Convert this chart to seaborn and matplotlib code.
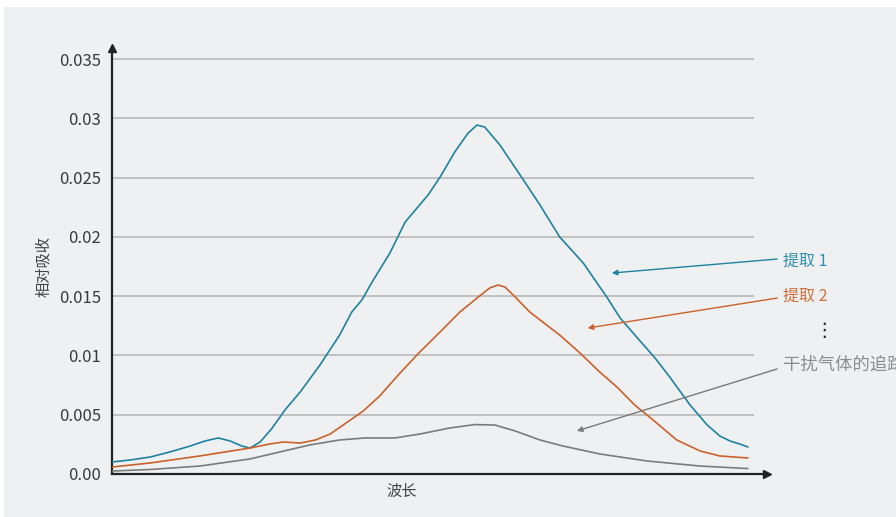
import numpy as np
import pandas as pd
import seaborn as sns
import matplotlib.pyplot as plt
from matplotlib.patches import Rectangle

# ── data (wavelength index 0..100, relative absorption) ──
x_blue = [0, 2.8, 6.0, 9.1, 12.3, 14.6, 16.7, 18.6, 20.4, 21.7, 23.3, 25.2, 27.2,
          29.6, 32.7, 35.8, 37.7, 39.3, 40.9, 43.7, 46.1, 49.7, 51.6, 53.9, 56.0,
          57.4, 58.6, 61.0, 64.5, 67.3, 70.4, 74.1, 77.8, 79.9, 82.5, 85.4, 87.7,
          90.9, 93.6, 95.6, 97.2, 98.7, 100]
y_blue = [0.00101, 0.00118, 0.00143, 0.00186, 0.00236, 0.00278, 0.00304, 0.00278,
          0.00236, 0.00219, 0.00270, 0.00388, 0.00540, 0.00692, 0.00919, 0.01172,
          0.01366, 0.01468, 0.01619, 0.01864, 0.02125, 0.02353, 0.02505, 0.02716,
          0.02876, 0.02943, 0.02927, 0.02775, 0.02496, 0.02269, 0.01999, 0.01780,
          0.01493, 0.01316, 0.01155, 0.00978, 0.00818, 0.00582, 0.00413, 0.00320,
          0.00278, 0.00253, 0.00228]

x_orange = [0, 6.0, 13.8, 21.7, 24.8, 26.9, 29.6, 32.0, 34.3, 36.6, 39.5, 42.1,
            45.3, 48.4, 51.6, 54.7, 57.4, 59.4, 60.7, 61.8, 63.4, 65.7, 70.4, 73.6,
            76.7, 79.4, 82.2, 85.1, 88.8, 92.5, 95.6, 100]
y_orange = [0.00059, 0.00093, 0.00152, 0.00219, 0.00253, 0.00270, 0.00261, 0.00287,
            0.00337, 0.00422, 0.00531, 0.00658, 0.00852, 0.01029, 0.01198, 0.01366,
            0.01484, 0.01569, 0.01594, 0.01577, 0.01493, 0.01366, 0.01172, 0.01020,
            0.00860, 0.00734, 0.00582, 0.00455, 0.00287, 0.00194, 0.00152, 0.00135]

x_gray = [0, 6.0, 13.8, 21.7, 26.4, 31.1, 35.8, 39.8, 44.5, 48.4, 53.1, 57.1, 60.2,
          63.4, 67.3, 70.9, 76.7, 84.1, 92.5, 100]
y_gray = [0.00025, 0.00038, 0.00067, 0.00127, 0.00186, 0.00245, 0.00287, 0.00304,
          0.00304, 0.00337, 0.00388, 0.00417, 0.00413, 0.00363, 0.00287, 0.00236,
          0.00169, 0.00110, 0.00067, 0.00046]

y_ticks = [0, 0.005, 0.01, 0.015, 0.02, 0.025, 0.03, 0.035]
y_tick_labels = ["0.00", "0.005", "0.01", "0.015", "0.02", "0.025", "0.03", "0.035"]

labels = ["提取 1", "提取 2", "干扰气体的追踪"]

df = pd.concat([
    pd.DataFrame({"x": x_blue, "y": y_blue, "series": labels[0]}),
    pd.DataFrame({"x": x_orange, "y": y_orange, "series": labels[1]}),
    pd.DataFrame({"x": x_gray, "y": y_gray, "series": labels[2]}),
])

line_colors = {labels[0]: "#1f82a0", labels[1]: "#c9622b", labels[2]: "#7b7b7b"}
text_colors = ["#3490ad", "#d0703a", "#8c8c8c"]
bg = "#eff0f2"

sns.set_theme(style="white")
plt.rcParams["font.family"] = ["Noto Sans CJK SC", "DejaVu Sans"]

fig = plt.figure(figsize=(8.96, 5.17), dpi=100, facecolor="white")
fig.patches.append(Rectangle((4 / 896, 0), 1, 1 - 7 / 517, transform=fig.transFigure,
                             facecolor=bg, edgecolor="none", zorder=-10))
ax = fig.add_axes([112 / 896, 43 / 517, 655 / 896, 426 / 517])
ax.set_facecolor(bg)

# horizontal grid lines (stop short of the axis arrow)
ax.hlines(y_ticks[1:], 0, 101, color="#b8b8b8", lw=1.2, zorder=1)

sns.lineplot(data=df, x="x", y="y", hue="series", palette=line_colors,
             sort=False, estimator=None, lw=1.2, legend=False, ax=ax, zorder=3)

ax.set_xlim(0, 103)
ax.set_ylim(0, 0.03593)
ax.set_yticks(y_ticks)
ax.set_yticklabels(y_tick_labels, fontweight="light")
ax.set_xticks([])
ax.tick_params(axis="y", length=0, pad=8, labelsize=12, labelcolor="#3a3a3a")

for side in ["top", "right"]:
    ax.spines[side].set_visible(False)
for side in ["left", "bottom"]:
    ax.spines[side].set_color("#222222")
    ax.spines[side].set_linewidth(1.6)

# arrow heads on the axes
ax.plot(1, 0, ">", color="#222222", ms=6, transform=ax.transAxes, clip_on=False)
ax.plot(0, 1, "^", color="#222222", ms=6, transform=ax.transAxes, clip_on=False)

ax.set_xlabel("波长", fontsize=11, color="#444444")
ax.set_ylabel("相对吸收", fontsize=11, color="#444444")
ax.xaxis.set_label_coords(0.443, -0.02)
ax.yaxis.set_label_coords(-0.092, 0.486)

# callouts
heads = [(78.6, 0.01695), (74.8, 0.01231), (73.1, 0.00363)]
tails = [0.01813, 0.01484, 0.00886]
text_y = [0.01796, 0.01501, 0.00919]
sizes = [11.5, 11.5, 12.5]
for lab, head, ty, txy, tc, lc, fs in zip(labels, heads, tails, text_y, text_colors,
                                           line_colors.values(), sizes):
    ax.annotate("", xy=head, xytext=(104.6, ty), annotation_clip=False,
                arrowprops=dict(arrowstyle="-|>", color=lc, lw=1.0, mutation_scale=8,
                                shrinkA=0, shrinkB=0))
    ax.text(105.5, txy, lab, color=tc, fontsize=fs, va="center", ha="left", clip_on=False)

ax.text(112.0, 0.01207, "⋮", color="#222222", fontsize=14, va="center", ha="center",
        clip_on=False)

fig.savefig("out.png", dpi=100, facecolor="white")
